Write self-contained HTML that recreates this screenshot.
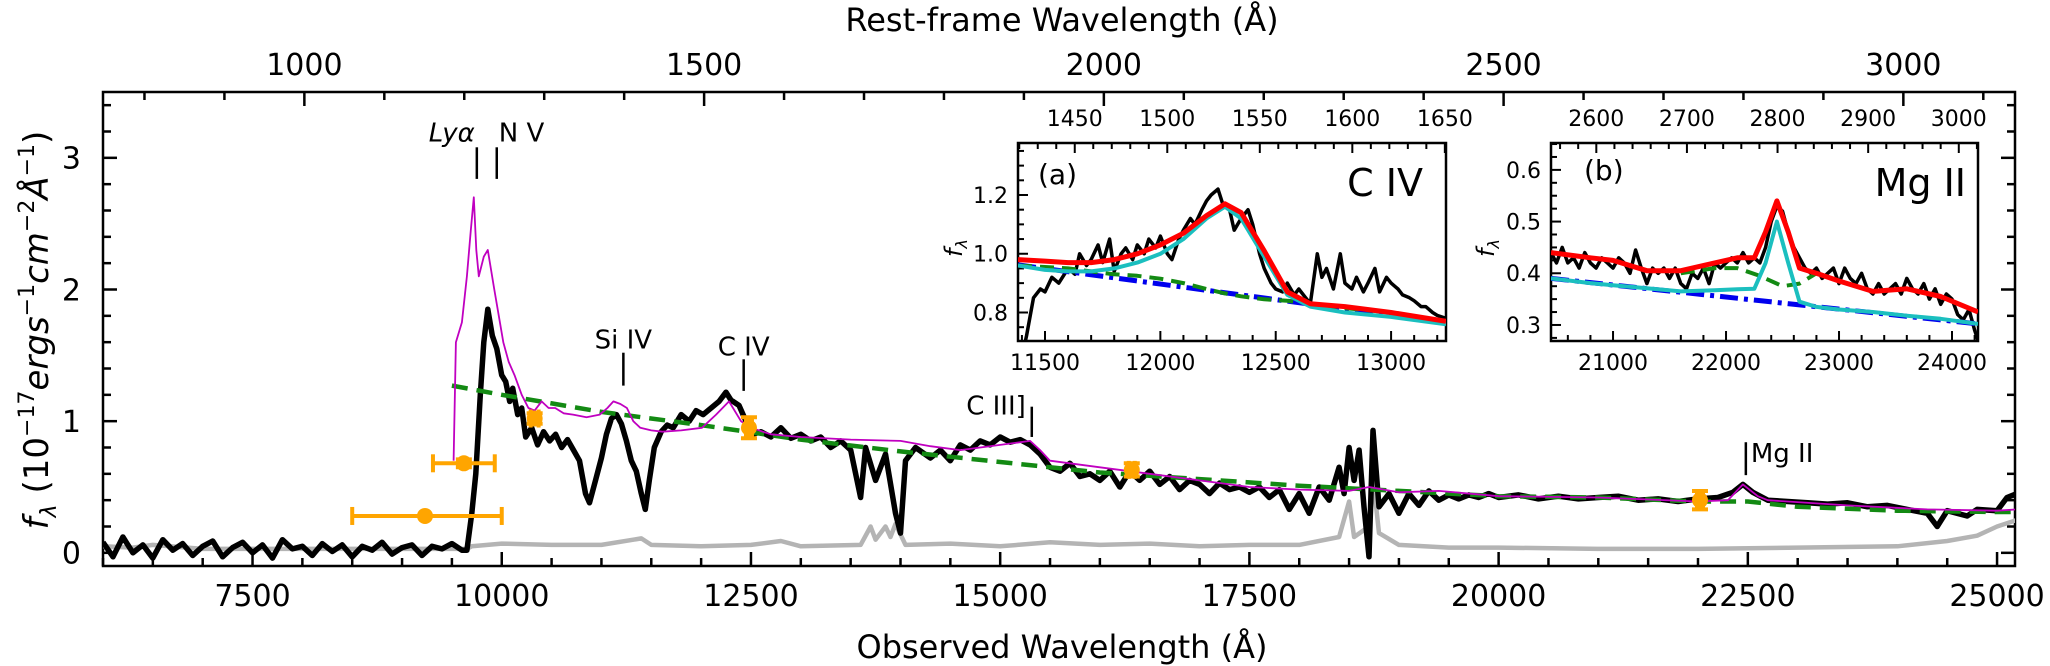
<!DOCTYPE html>
<html><head><meta charset="utf-8">
<style>
html,body{margin:0;padding:0;background:#fff;}
svg{display:block;font-family:"DejaVu Sans","Liberation Sans",sans-serif;}
</style></head>
<body>
<svg id="chart" width="2050" height="666" viewBox="0 0 2050 666" xmlns="http://www.w3.org/2000/svg">
<defs>
<clipPath id="clipMain"><rect x="103" y="92" width="1912" height="474"/></clipPath>
<clipPath id="clipA"><rect x="1018" y="143" width="428" height="198"/></clipPath>
<clipPath id="clipB"><rect x="1551" y="143" width="427" height="198"/></clipPath>
</defs>
<rect x="0" y="0" width="2050" height="666" fill="#fff"/>
<g id="main"></g>
<g id="insetA"></g>
<g id="insetB"></g>
<text x="1062" y="31" font-size="32" text-anchor="middle">Rest-frame Wavelength (Å)</text>
<text x="1062" y="658" font-size="32" text-anchor="middle">Observed Wavelength (Å)</text>
<text transform="translate(48,330) rotate(-90)" font-size="34" text-anchor="middle"><tspan font-style="italic">f</tspan><tspan font-size="22" font-style="italic" dy="8">λ</tspan><tspan dy="-8"> (10</tspan><tspan font-size="22" dy="-14">−17</tspan><tspan dy="14" font-style="italic">ergs</tspan><tspan font-size="22" dy="-14">−1</tspan><tspan dy="14" font-style="italic">cm</tspan><tspan font-size="22" dy="-14">−2</tspan><tspan dy="14" font-style="italic">Å</tspan><tspan font-size="22" dy="-14">−1</tspan><tspan dy="14">)</tspan></text>
</svg>
<script>
// ---------------- data ----------------
const zPlus1 = 8.02;
const obsWave = [6000,6100,6200,6300,6400,6500,6600,6700,6800,6900,7000,7100,7200,7300,7400,7500,7600,7700,7800,7900,8000,8100,8200,8300,8400,8500,8600,8700,8800,8900,9000,9100,9200,9300,9400,9500,9600,
9650,9700,9740,9785,9820,9860,9905,9950,10000,10040,10080,10110,10160,10200,10240,10300,10360,10420,10480,10540,10600,10660,10720,10780,10840,10880,10940,11000,11050,11100,11150,11200,11250,11300,11350,11400,11440,11480,11530,11600,11660,11720,11800,11880,11950,12020,12100,12180,12250,12300,12380,12450,12520,12600,12700,12800,12900,13000,13100,13200,13300,13400,13500,13600,13650,13750,13850,13950,14000,14050,14150,14300,14400,14500,14600,14700,14800,14900,15000,15100,15200,15300,15400,15500,15600,15700,15800,15900,16000,16100,16200,16300,16400,16500,16600,16700,16800,16900,17000,17100,17200,17300,17400,17500,17600,17700,17800,17900,18000,18100,18200,18300,18400,18450,18500,18550,18600,18650,18700,18740,18800,18900,19000,19100,19200,19300,19400,19500,19600,19700,19800,19900,20000,20200,20400,20600,20800,21000,21200,21400,21600,21800,22000,22200,22350,22450,22550,22700,22900,23100,23300,23500,23700,23900,24100,24300,24400,24500,24700,24800,25000,25100,25200];
const obsFlux = [0.08,-0.03,0.12,0.0,0.06,-0.04,0.1,0.02,0.07,-0.02,0.05,0.09,-0.03,0.04,0.08,0.0,0.06,-0.04,0.1,0.03,0.05,-0.02,0.07,0.01,0.06,-0.03,0.05,0.02,0.08,-0.01,0.04,0.06,-0.02,0.05,0.03,0.07,0.02,
0.02,0.3,0.6,1.2,1.6,1.85,1.65,1.55,1.35,1.3,1.15,1.25,1.05,1.1,0.88,0.95,0.82,0.92,0.85,0.9,0.8,0.86,0.78,0.7,0.45,0.38,0.55,0.72,0.9,1.02,1.05,0.98,0.85,0.7,0.62,0.45,0.33,0.55,0.8,0.92,0.97,0.95,1.05,1.0,1.08,1.05,1.1,1.15,1.22,1.16,1.12,1.0,0.9,0.92,0.88,0.95,0.87,0.9,0.85,0.88,0.8,0.85,0.78,0.42,0.8,0.55,0.75,0.3,0.15,0.7,0.8,0.72,0.78,0.7,0.82,0.78,0.85,0.82,0.88,0.84,0.86,0.82,0.75,0.65,0.62,0.68,0.58,0.6,0.55,0.62,0.5,0.62,0.55,0.62,0.52,0.58,0.48,0.55,0.52,0.45,0.53,0.48,0.5,0.46,0.5,0.42,0.48,0.33,0.45,0.3,0.5,0.4,0.65,0.45,0.8,0.55,0.78,0.35,-0.03,0.93,0.35,0.45,0.3,0.45,0.36,0.47,0.4,0.44,0.41,0.44,0.42,0.45,0.42,0.44,0.41,0.43,0.41,0.42,0.43,0.4,0.41,0.39,0.41,0.42,0.46,0.52,0.46,0.4,0.39,0.38,0.37,0.38,0.35,0.36,0.33,0.3,0.2,0.32,0.28,0.33,0.32,0.42,0.45];

const errWave = [6000,6300,6500,7000,8000,9000,9650,9700,10000,10500,11000,11400,11500,12000,12500,12800,13000,13600,13700,13750,13850,13900,13950,14050,14500,15000,15500,16000,16500,17000,17500,18000,18400,18500,18550,18700,18740,18800,19000,19500,20000,21000,22000,23000,24000,24500,24800,25000,25200];
const errFlux = [0.05,0.04,0.06,0.03,0.03,0.03,0.03,0.05,0.07,0.06,0.06,0.11,0.06,0.05,0.06,0.09,0.05,0.06,0.2,0.1,0.2,0.12,0.22,0.06,0.07,0.05,0.08,0.06,0.07,0.05,0.06,0.06,0.12,0.39,0.12,0.2,0.57,0.15,0.06,0.04,0.04,0.03,0.03,0.04,0.05,0.09,0.13,0.2,0.25];

const modelWave = [9517,9540,9600,9650,9690,9720,9745,9770,9820,9860,9925,10016,10070,10128,10200,10267,10330,10400,10470,10536,10620,10715,10850,10984,11060,11120,11190,11255,11320,11390,11500,11613,11800,12008,12150,12280,12400,12500,12700,13000,13500,14000,14300,14600,15000,15300,15400,15500,16000,16500,17000,17500,18000,18500,18700,19000,19400,20000,21000,22000,22300,22450,22600,22700,23500,24300,25000,25200];
const modelFlux = [0.7,1.6,1.75,2.1,2.45,2.7,2.3,2.1,2.25,2.3,2.0,1.6,1.45,1.35,1.2,1.1,1.08,1.15,1.1,1.1,1.06,1.05,1.03,1.05,1.1,1.15,1.13,1.1,1.0,0.95,0.93,0.92,0.93,0.95,1.05,1.15,1.0,0.95,0.9,0.88,0.86,0.85,0.81,0.78,0.82,0.85,0.78,0.7,0.65,0.6,0.55,0.5,0.48,0.47,0.5,0.46,0.47,0.43,0.42,0.39,0.4,0.52,0.43,0.4,0.36,0.33,0.32,0.33];

const contWave = [9500,10000,11000,12000,13000,14000,15000,16000,17000,18000,19000,20000,21000,22000,22500,23000,24000,25000,25200];
const contFlux = [1.27,1.2,1.07,0.97,0.86,0.77,0.69,0.61,0.56,0.51,0.47,0.43,0.42,0.39,0.39,0.35,0.32,0.31,0.31];

const photWave = [9230,9620,10330,12480,16320,22020];
const photFlux = [0.28,0.68,1.02,0.95,0.63,0.4];
const photXlo  = [8500,9310,10290,12450,16290,21990];
const photXhi  = [10000,9930,10370,12510,16350,22050];
const photYerr = [0.0,0.03,0.04,0.08,0.05,0.07];

const lineNames = ["Lyα","N V","Si IV","C IV","C III]","Mg II"];
const lineWave  = [9750,9950,11220,12427,15317,22480];
const lineLo    = [2.84,2.84,1.27,1.23,0.88,0.59];
const lineHi    = [3.08,3.08,1.52,1.47,1.11,0.84];

const xTicksMain = [7500,10000,12500,15000,17500,20000,22500,25000];
const yTicksMain = [0,1,2,3];
const restTicksMain = [1000,1500,2000,2500,3000];

// Inset A (C IV)
const aWave = [11400,11420,11450,11480,11500,11530,11560,11600,11630,11650,11680,11700,11730,11750,11780,11800,11830,11850,11880,11900,11930,11950,11980,12000,12030,12050,12080,12100,12130,12150,12180,12200,12220,12250,12270,12300,12320,12350,12380,12400,12430,12450,12480,12500,12530,12550,12580,12600,12630,12650,12680,12700,12720,12750,12780,12800,12830,12850,12880,12900,12930,12950,12980,13000,13030,13050,13080,13100,13130,13150,13180,13200,13238];
const aFlux = [0.65,0.72,0.85,0.88,0.87,0.92,0.9,0.95,0.93,1.0,0.96,0.98,1.03,0.97,1.05,0.94,1.0,1.02,0.98,1.03,1.0,1.05,1.02,1.06,1.0,0.98,1.05,1.08,1.12,1.1,1.15,1.18,1.2,1.22,1.17,1.15,1.08,1.12,1.15,1.1,1.0,0.95,0.9,0.88,0.87,0.9,0.86,0.88,0.85,0.83,1.0,0.92,0.95,0.88,1.0,0.9,0.88,0.92,0.87,0.9,0.95,0.87,0.92,0.9,0.88,0.86,0.85,0.84,0.82,0.82,0.8,0.79,0.78];
const aFitWave = [11383,11500,11600,11700,11800,11900,12000,12100,12200,12280,12350,12450,12550,12650,12800,13000,13238];
const aFitFlux = [0.98,0.975,0.97,0.97,0.98,1.0,1.03,1.07,1.13,1.17,1.14,1.01,0.87,0.83,0.82,0.8,0.77];
const aCyanFlux = [0.96,0.945,0.94,0.94,0.95,0.97,1.0,1.05,1.12,1.16,1.12,0.99,0.86,0.82,0.8,0.785,0.76];
const aBroadFlux = [0.96,0.955,0.95,0.94,0.93,0.925,0.915,0.9,0.88,0.865,0.855,0.845,0.84,0.83,0.815,0.8,0.77];
const aPowWave = [11383,13238];
const aPowFlux = [0.962,0.766];
const aXTicks = [11500,12000,12500,13000];
const aYTicks = [0.8,1.0,1.2];
const aRestTicks = [1450,1500,1550,1600,1650];

// Inset B (Mg II)
const bWave = [20451,20500,20550,20600,20650,20700,20750,20800,20850,20900,20950,21000,21050,21100,21150,21200,21250,21300,21350,21400,21450,21500,21550,21600,21650,21700,21750,21800,21850,21900,21950,22000,22050,22100,22150,22200,22250,22300,22350,22400,22450,22500,22550,22600,22650,22700,22750,22800,22850,22900,22950,23000,23050,23100,23150,23200,23250,23300,23350,23400,23450,23500,23550,23600,23650,23700,23750,23800,23850,23900,23950,24000,24050,24100,24150,24200,24230];
const bFlux = [0.44,0.42,0.45,0.42,0.43,0.41,0.44,0.42,0.41,0.43,0.42,0.41,0.43,0.42,0.4,0.445,0.41,0.38,0.41,0.4,0.41,0.39,0.41,0.38,0.37,0.4,0.39,0.41,0.38,0.42,0.41,0.42,0.43,0.42,0.44,0.42,0.43,0.42,0.45,0.5,0.53,0.52,0.48,0.45,0.43,0.41,0.4,0.41,0.39,0.4,0.41,0.38,0.41,0.39,0.38,0.4,0.37,0.36,0.38,0.36,0.37,0.38,0.36,0.39,0.37,0.36,0.38,0.35,0.37,0.34,0.36,0.35,0.32,0.31,0.33,0.29,0.27];
const bFitWave = [20451,20800,21000,21300,21600,21900,22100,22250,22350,22450,22550,22650,22800,23000,23300,23600,23900,24230];
const bFitFlux = [0.44,0.43,0.425,0.405,0.405,0.42,0.43,0.43,0.48,0.54,0.48,0.41,0.4,0.385,0.365,0.37,0.355,0.325];
const bCyanFlux = [0.39,0.381,0.377,0.371,0.365,0.367,0.369,0.37,0.42,0.5,0.42,0.345,0.335,0.33,0.325,0.318,0.312,0.302];
const bBroadWave = [21600,21900,22100,22300,22500,22650,22800];
const bBroadFlux = [0.4,0.41,0.41,0.395,0.375,0.38,0.4];
const bPowWave = [20451,24230];
const bPowFlux = [0.39,0.302];
const bXTicks = [21000,22000,23000,24000];
const bYTicks = [0.3,0.4,0.5,0.6];
const bRestTicks = [2600,2700,2800,2900,3000];

// ---------------- helpers ----------------
const NS = "http://www.w3.org/2000/svg";
function mk(tag, attrs, parent){
  const e = document.createElementNS(NS, tag);
  for (const k in attrs) e.setAttribute(k, attrs[k]);
  if (parent) parent.appendChild(e);
  return e;
}
function scale(d0,d1,r0,r1){ return v => r0 + (v-d0)/(d1-d0)*(r1-r0); }
function pathFrom(xs, ys, sx, sy){
  let d = "";
  for (let i=0;i<xs.length;i++) d += (i?"L":"M") + sx(xs[i]).toFixed(1) + "," + sy(ys[i]).toFixed(1);
  return d;
}

function makeAxes(g, box, xd, yd, opts){
  const sx = scale(xd[0],xd[1],box.x0,box.x1);
  const sy = scale(yd[0],yd[1],box.y1,box.y0);
  const fr = mk("rect",{x:box.x0,y:box.y0,width:box.x1-box.x0,height:box.y1-box.y0,fill:"none",stroke:"#000","stroke-width":opts.frameW},g);
  
  
  const tg = mk("g",{stroke:"#000","stroke-width":opts.tickW},g);
  
  
  for (let v=Math.ceil(xd[0]/opts.xMinor)*opts.xMinor; v<=xd[1]; v+=opts.xMinor){
    const isMaj = Math.abs(v/opts.xMajor - Math.round(v/opts.xMajor))<1e-6;
    const L = isMaj?opts.majL:opts.minL;
    const x = sx(v);
    mk("line",{x1:x,x2:x,y1:box.y1,y2:box.y1-L},tg);
  }
  opts.xTicks.forEach(v=>{
    const t = mk("text",{x:sx(v),y:box.y1+opts.xLabOff,"font-size":opts.fs,"text-anchor":"middle",stroke:"none"},g);
    t.textContent = v;
    
    
  });
  for (let v=Math.ceil((yd[0]-1e-9)/opts.yMinor)*opts.yMinor; v<=yd[1]+1e-9; v+=opts.yMinor){
    const isMaj = Math.abs(v/opts.yMajor - Math.round(v/opts.yMajor))<1e-6;
    const L = isMaj?opts.majL:opts.minL;
    const y = sy(v);
    mk("line",{x1:box.x0,x2:box.x0+L,y1:y,y2:y},tg);
    if (opts.rightTicks) mk("line",{x1:box.x1,x2:box.x1-L,y1:y,y2:y},tg);
  }
  opts.yTicks.forEach(v=>{
    const t = mk("text",{x:box.x0-opts.yLabOff,y:sy(v)+opts.fs*0.36,"font-size":opts.fs,"text-anchor":"end",stroke:"none"},g);
    t.textContent = opts.yFmt(v);
    
    
  });
  const restToX = r => sx(r*zPlus1);
  const r0 = xd[0]/zPlus1, r1 = xd[1]/zPlus1;
  for (let v=Math.ceil(r0/opts.rMinor)*opts.rMinor; v<=r1; v+=opts.rMinor){
    const isMaj = Math.abs(v/opts.rMajor - Math.round(v/opts.rMajor))<1e-6;
    const L = isMaj?opts.majL:opts.minL;
    const x = restToX(v);
    mk("line",{x1:x,x2:x,y1:box.y0,y2:box.y0+L},tg);
  }
  opts.rTicks.forEach(v=>{
    const t = mk("text",{x:restToX(v),y:opts.rLabY,"font-size":opts.fs,"text-anchor":"middle",stroke:"none"},g);
    t.textContent = v;
    
    
  });
  return {sx, sy};
}

function addLine(g, xs, ys, s, attrs, name, clip){
  const p = mk("path", Object.assign({d:pathFrom(xs,ys,s.sx,s.sy),fill:"none","stroke-linejoin":"round","clip-path":"url(#"+clip+")"}, attrs), g);
  
  
  return p;
}

// ---------------- main panel ----------------
const gm = document.getElementById("main");
const mbox = {x0:103,x1:2015,y0:92,y1:566};
const ms = makeAxes(gm, mbox, [6000,25180], [-0.1,3.5], {
  name:"main", frameW:2.5, tickW:2.5, majL:14, minL:8, fs:30,
  xMinor:500, xMajor:2500, xTicks:xTicksMain, xLabOff:40,
  yMinor:0.2, yMajor:1, yTicks:yTicksMain, yLabOff:22, yFmt:v=>String(v), rightTicks:true,
  rMinor:100, rMajor:500, rTicks:restTicksMain, rLabY:75
});
addLine(gm, errWave, errFlux, ms, {stroke:"#b4b4b4","stroke-width":4.5}, "error-spectrum-line", "clipMain");
addLine(gm, obsWave, obsFlux, ms, {stroke:"#000","stroke-width":5.5}, "observed-spectrum-line", "clipMain");
addLine(gm, contWave, contFlux, ms, {stroke:"#138a13","stroke-width":4.5,"stroke-dasharray":"16,9"}, "continuum-dashed-line", "clipMain");
addLine(gm, modelWave, modelFlux, ms, {stroke:"#c000c0","stroke-width":1.8}, "composite-model-line", "clipMain");

for (let i=0;i<photWave.length;i++){
  const pg = mk("g",{stroke:"#ffa500",fill:"#ffa500","stroke-width":4},gm);
  
  
  const x = ms.sx(photWave[i]), y = ms.sy(photFlux[i]);
  const xl = ms.sx(photXlo[i]), xh = ms.sx(photXhi[i]);
  mk("line",{x1:xl,x2:xh,y1:y,y2:y},pg);
  mk("line",{x1:xl,x2:xl,y1:y-9,y2:y+9},pg);
  mk("line",{x1:xh,x2:xh,y1:y-9,y2:y+9},pg);
  if (photYerr[i]>0){
    const y1 = ms.sy(photFlux[i]+photYerr[i]), y2 = ms.sy(photFlux[i]-photYerr[i]);
    mk("line",{x1:x,x2:x,y1:y1,y2:y2},pg);
    mk("line",{x1:x-8,x2:x+8,y1:y1,y2:y1},pg);
    mk("line",{x1:x-8,x2:x+8,y1:y2,y2:y2},pg);
  }
  mk("circle",{cx:x,cy:y,r:8,stroke:"none"},pg);
}

const labelPos = [
  {dx:-2, anchor:"end", dy:-6, it:true},
  {dx:2, anchor:"start", dy:-6, it:false},
  {dx:0, anchor:"middle", dy:-4, it:false},
  {dx:0, anchor:"middle", dy:-4, it:false},
  {dx:-6, anchor:"end", dy:8, it:false},
  {dx:5, anchor:"start", dy:20, it:false}
];
for (let i=0;i<lineNames.length;i++){
  const x = ms.sx(lineWave[i]);
  const ln = mk("line",{x1:x,x2:x,y1:ms.sy(lineHi[i]),y2:ms.sy(lineLo[i]),stroke:"#000","stroke-width":2.5},gm);
  
  
  const lp = labelPos[i];
  const t = mk("text",{x:x+lp.dx,y:ms.sy(lineHi[i])+lp.dy,"font-size":26,"text-anchor":lp.anchor},gm);
  if (lp.it) t.setAttribute("font-style","italic");
  t.textContent = lineNames[i];
  
  
}

// ---------------- inset A ----------------
const ga = document.getElementById("insetA");
const abg = mk("rect",{x:1018,y:143,width:428,height:198,fill:"#fff"},ga);


const as = makeAxes(ga, {x0:1018,x1:1446,y0:143,y1:341}, [11383,13238], [0.703,1.377], {
  name:"inset-a", frameW:2.5, tickW:2, majL:10, minL:6, fs:22,
  xMinor:100, xMajor:500, xTicks:aXTicks, xLabOff:29,
  yMinor:0.05, yMajor:0.2, yTicks:aYTicks, yLabOff:10, yFmt:v=>v.toFixed(1), rightTicks:false,
  rMinor:10, rMajor:50, rTicks:aRestTicks, rLabY:126
});
addLine(ga, aWave, aFlux, as, {stroke:"#000","stroke-width":3.5}, "inset-a-data-line", "clipA");
addLine(ga, aPowWave, aPowFlux, as, {stroke:"#0000ee","stroke-width":5,"stroke-dasharray":"18,6,4,6"}, "inset-a-powerlaw-line", "clipA");
addLine(ga, aFitWave, aBroadFlux, as, {stroke:"#138a13","stroke-width":4,"stroke-dasharray":"14,8"}, "inset-a-broad-line", "clipA");
addLine(ga, aFitWave, aCyanFlux, as, {stroke:"#1bbfbf","stroke-width":4}, "inset-a-cyan-line", "clipA");
addLine(ga, aFitWave, aFitFlux, as, {stroke:"#ff0000","stroke-width":5}, "inset-a-fit-line", "clipA");
let t;
t = mk("text",{x:1038,y:184,"font-size":28},ga); t.textContent="(a)";
 
t = mk("text",{x:1423,y:196,"font-size":38,"text-anchor":"end"},ga); t.textContent="C IV";
 
t = mk("text",{x:0,y:0,"font-size":24,"font-style":"italic",transform:"translate(962,248) rotate(-90)","text-anchor":"middle"},ga);
t.innerHTML = 'f<tspan font-size="16" dy="5">λ</tspan>';
 

// ---------------- inset B ----------------
const gb = document.getElementById("insetB");
const bbg = mk("rect",{x:1551,y:143,width:427,height:198,fill:"#fff"},gb);


const bs = makeAxes(gb, {x0:1551,x1:1978,y0:143,y1:341}, [20451,24230], [0.269,0.652], {
  name:"inset-b", frameW:2.5, tickW:2, majL:10, minL:6, fs:22,
  xMinor:200, xMajor:1000, xTicks:bXTicks, xLabOff:29,
  yMinor:0.025, yMajor:0.1, yTicks:bYTicks, yLabOff:10, yFmt:v=>v.toFixed(1), rightTicks:false,
  rMinor:20, rMajor:100, rTicks:bRestTicks, rLabY:126
});
addLine(gb, bWave, bFlux, bs, {stroke:"#000","stroke-width":3.5}, "inset-b-data-line", "clipB");
addLine(gb, bPowWave, bPowFlux, bs, {stroke:"#0000ee","stroke-width":5,"stroke-dasharray":"18,6,4,6"}, "inset-b-powerlaw-line", "clipB");
addLine(gb, bBroadWave, bBroadFlux, bs, {stroke:"#138a13","stroke-width":4,"stroke-dasharray":"14,8"}, "inset-b-broad-line", "clipB");
addLine(gb, bFitWave, bCyanFlux, bs, {stroke:"#1bbfbf","stroke-width":4}, "inset-b-cyan-line", "clipB");
addLine(gb, bFitWave, bFitFlux, bs, {stroke:"#ff0000","stroke-width":5}, "inset-b-fit-line", "clipB");
t = mk("text",{x:1584,y:180,"font-size":28},gb); t.textContent="(b)";
 
t = mk("text",{x:1966,y:196,"font-size":38,"text-anchor":"end"},gb); t.textContent="Mg II";
 
t = mk("text",{x:0,y:0,"font-size":24,"font-style":"italic",transform:"translate(1494,248) rotate(-90)","text-anchor":"middle"},gb);
t.innerHTML = 'f<tspan font-size="16" dy="5">λ</tspan>';
 
</script>
</body></html>
